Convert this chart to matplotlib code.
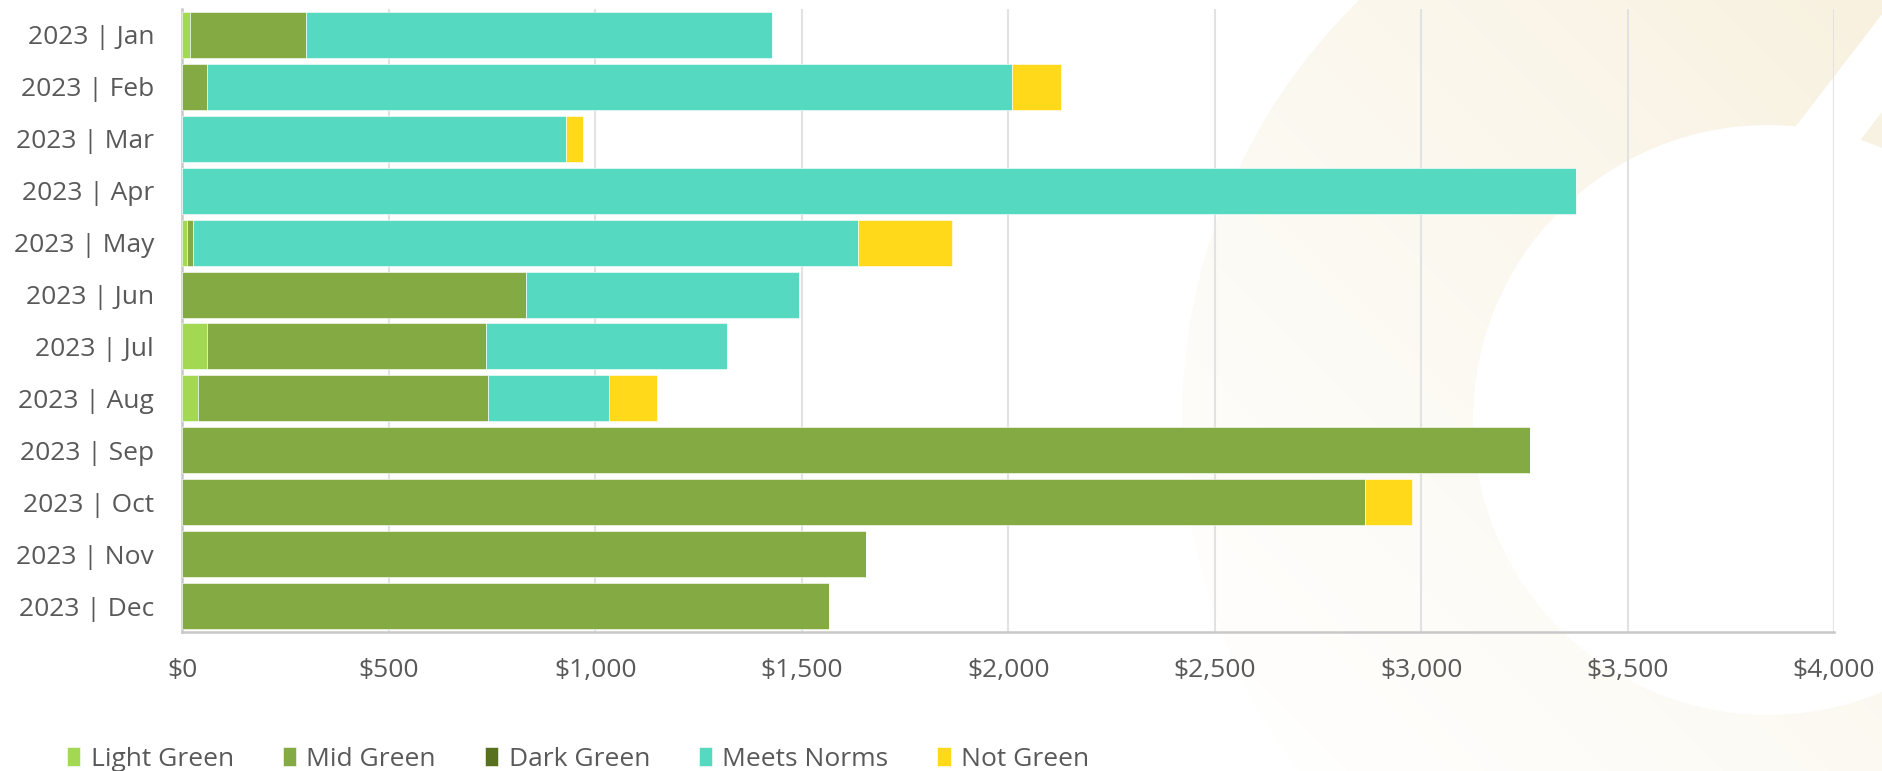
"""Monthly spend by green category, stacked horizontal bars."""
import numpy as np
import matplotlib
matplotlib.use("Agg")
import matplotlib.pyplot as plt
from matplotlib.patches import Wedge, Polygon

months = ["2023 | Jan", "2023 | Feb", "2023 | Mar", "2023 | Apr", "2023 | May", "2023 | Jun",
          "2023 | Jul", "2023 | Aug", "2023 | Sep", "2023 | Oct", "2023 | Nov", "2023 | Dec"]
light_green = [18, 0, 0, 0, 10, 0, 60, 37, 0, 0, 0, 0]
mid_green = [281, 60, 0, 0, 16, 832, 676, 702, 3264, 2863, 1655, 1567]
dark_green = [0, 0, 0, 0, 0, 0, 0, 0, 0, 0, 0, 0]
meets_norms = [1129, 1950, 928, 3375, 1611, 660, 584, 293, 0, 0, 0, 0]
not_green = [0, 117, 43, 0, 226, 0, 0, 117, 0, 116, 0, 0]
x_ticks = [0, 500, 1000, 1500, 2000, 2500, 3000, 3500, 4000]

series = [("Light Green", light_green, "#a3d853"),
          ("Mid Green", mid_green, "#83aa43"),
          ("Dark Green", dark_green, "#58711e"),
          ("Meets Norms", meets_norms, "#55d9c1"),
          ("Not Green", not_green, "#ffd91a")]

TEXT = "#595959"
plt.rcParams["font.family"] = ["Open Sans", "DejaVu Sans"]

W, H = 1883, 771
fig = plt.figure(figsize=(W / 100, H / 100), dpi=100)

# faint beige ring watermark behind the chart (pixel coords, y down)
bg = fig.add_axes([0, 0, 1, 1], zorder=0)
bg.set_xlim(0, W); bg.set_ylim(H, 0); bg.axis("off")
yy, xx = np.mgrid[0:H, 0:W]
t = np.clip(((xx - 1150) - (yy - 771)) / 1500, 0, 1)[..., None] ** 1.3
beige = np.array([248, 241, 223]) / 255
grad = (1 - t) * np.array([1.0, 1.0, 1.0]) + t * beige
im = bg.imshow(grad, extent=[0, W, H, 0], interpolation="bilinear")
ring = Wedge((1768, 420), 586, 0, 360, width=291, transform=bg.transData)
im.set_clip_path(ring)
bg.add_patch(Polygon([(1662, 300), (1970, -100), (2017, -64), (1710, 336)],
                     closed=True, facecolor="white", edgecolor="none", zorder=2))

ax = fig.add_axes([182.5 / W, 1 - 632 / H, (1834 - 182.5) / W, 623 / H], zorder=1)
ax.set_facecolor("none")

y = np.arange(len(months))
left = np.zeros(len(months))
for name, vals, color in series:
    ax.barh(y, vals, left=left, height=0.885, color=color, label=name,
            edgecolor="white", linewidth=0.4, zorder=3)
    left += np.array(vals)

ax.set_xlim(0, 4000)
ax.set_ylim(11.5, -0.5)
ax.set_yticks(y)
ax.set_yticklabels(months)
ax.set_xticks(x_ticks)
ax.set_xticklabels([f"${v:,}" for v in x_ticks])
ax.tick_params(axis="y", length=0, pad=20.5, labelsize=19, labelcolor=TEXT)
ax.tick_params(axis="x", length=0, pad=19, labelsize=19, labelcolor=TEXT)
ax.grid(axis="x", color="#e2e2e2", lw=1.5, zorder=0)
for s in ("top", "right"):
    ax.spines[s].set_visible(False)
for s in ("left", "bottom"):
    ax.spines[s].set_color("#c8c8c8")
    ax.spines[s].set_linewidth(1.8)

handles, labels = ax.get_legend_handles_labels()
fig.legend(handles, labels, loc="center left", bbox_to_anchor=(67 / W, 1 - 759.5 / H),
           ncol=5, frameon=False, fontsize=19, labelcolor=TEXT,
           handlelength=0.5, handleheight=0.75, handletextpad=0.4,
           columnspacing=1.85, borderpad=0, borderaxespad=0)

fig.savefig("out.png", dpi=100)
